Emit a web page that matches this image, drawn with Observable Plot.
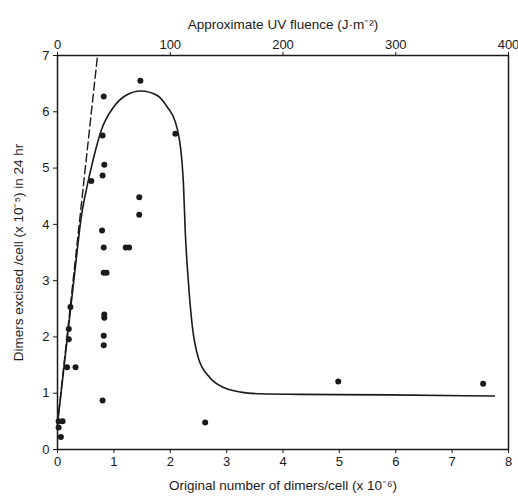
<!DOCTYPE html>
<html>
<head>
<meta charset="utf-8">
<script src="https://cdn.jsdelivr.net/npm/d3@7"></script>
<script src="https://cdn.jsdelivr.net/npm/@observablehq/plot@0.6"></script>
<style>
  html, body { margin: 0; padding: 0; background: #fff; }
  #chart svg { display: block; }
  #chart g[aria-label$="axis label"] text { font-size: 13.5px; }
</style>
</head>
<body>
<div id="chart"></div>
<script>
// Measured excision: original dimers per cell (x 10^-6) vs dimers excised per cell (x 10^-5) in 24 hr
const dimersOriginal = [0.02, 0.09, 0.02, 0.06, 0.17, 0.32, 0.20, 0.20, 0.23, 0.60,
  0.82, 0.80, 0.83, 0.80, 0.79, 0.82, 0.82, 0.87, 0.83, 0.83, 0.82, 0.82, 0.80,
  1.21, 1.27, 1.47, 1.45, 1.45, 2.09, 2.62, 4.98, 7.55];
const dimersExcised = [0.50, 0.50, 0.39, 0.22, 1.46, 1.46, 1.96, 2.14, 2.53, 4.77,
  6.27, 5.58, 5.06, 4.87, 3.89, 3.59, 3.14, 3.14, 2.40, 2.34, 2.02, 1.85, 0.87,
  3.59, 3.59, 6.55, 4.48, 4.17, 5.61, 0.48, 1.21, 1.17];

// Hand-fitted trend through the data
const fitX = [0, 0.33, 0.42, 0.53, 0.64, 0.78, 1.0, 1.21, 1.48, 1.77, 1.95, 2.09, 2.16, 2.205,
  2.235, 2.265, 2.32, 2.39, 2.50, 2.70, 2.95, 3.25, 3.6, 4.3, 5.9, 7.75];
const fitY = [0.45, 3.36, 4.12, 4.70, 5.18, 5.68, 6.09, 6.29, 6.37, 6.29, 6.08, 5.82, 5.52, 5.15,
  4.70, 3.90, 3.00, 2.20, 1.62, 1.28, 1.10, 1.02, 0.99, 0.98, 0.97, 0.95];

// Initial-slope reference line (dashed)
const slopeX = [0, 0.71];
const slopeY = [0.45, 7];

// Axis ticks
const dimerTicks = [0, 1, 2, 3, 4, 5, 6, 7, 8];
const excisedTicks = [0, 1, 2, 3, 4, 5, 6, 7];
const fluenceTicks = [0, 100, 200, 300, 400];
const fluencePerDimer = 50; // J·m⁻² per 10^6 dimers/cell

const points = dimersOriginal.map((x, i) => ({x, y: dimersExcised[i]}));
const fit = fitX.map((x, i) => ({x, y: fitY[i]}));
const slope = slopeX.map((x, i) => ({x, y: slopeY[i]}));

const ink = "#1a1a1a";

const chart = Plot.plot({
  width: 518,
  height: 496,
  marginLeft: 57,
  marginRight: 10,
  marginTop: 55,
  marginBottom: 47,
  style: {fontFamily: "'Liberation Sans', Arial, sans-serif", fontSize: "13px", color: ink, background: "#fff"},
  x: {domain: [0, 8]},
  y: {domain: [0, 7]},
  marks: [
    Plot.frame({stroke: ink, strokeWidth: 1.5}),
    Plot.axisX({
      anchor: "bottom", ticks: dimerTicks, tickFormat: d3.format("d"), tickSize: 4, tickPadding: 3,
      label: "Original number of dimers/cell (x 10⁻⁶)", labelAnchor: "center",
      labelArrow: "none", labelOffset: 40
    }),
    Plot.axisX({
      anchor: "top", ticks: fluenceTicks.map(f => f / fluencePerDimer),
      tickFormat: d => d3.format("d")(d * fluencePerDimer), tickSize: 4, tickPadding: 3,
      label: "Approximate UV fluence (J·m⁻²)", labelAnchor: "center",
      labelArrow: "none", labelOffset: 36
    }),
    Plot.axisY({
      ticks: excisedTicks, tickFormat: d3.format("d"), tickSize: 4, tickPadding: 4,
      label: "Dimers excised /cell (x 10⁻⁵) in 24 hr", labelAnchor: "center",
      labelArrow: "none", labelOffset: 44
    }),
    Plot.line(slope, {x: "x", y: "y", stroke: ink, strokeWidth: 1.4, strokeDasharray: "8,4"}),
    Plot.line(fit, {x: "x", y: "y", curve: "monotone-x", stroke: ink, strokeWidth: 1.6}),
    Plot.dot(points, {x: "x", y: "y", r: 3, fill: ink, stroke: "none"})
  ]
});

document.getElementById("chart").append(chart);
</script>
</body>
</html>
